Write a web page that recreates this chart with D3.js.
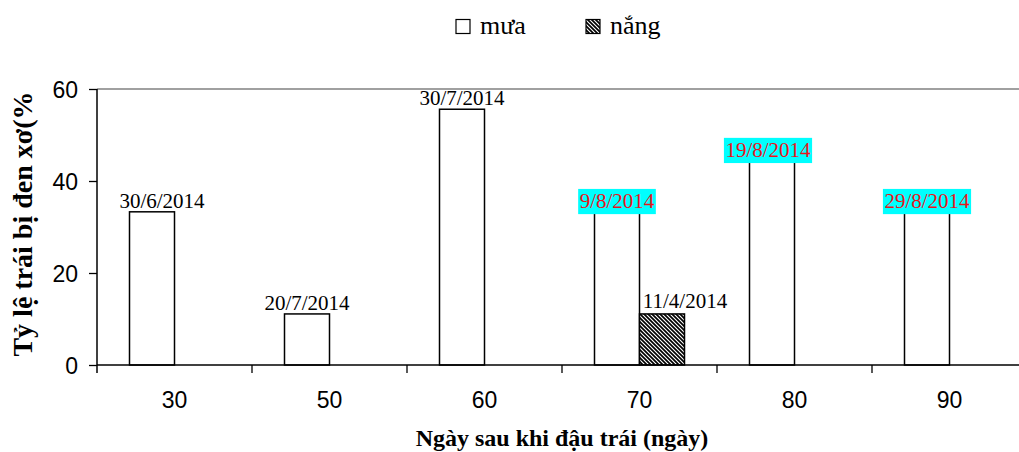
<!DOCTYPE html>
<html>
<head>
<meta charset="utf-8">
<script src="https://cdn.jsdelivr.net/npm/d3@7"></script>
<style>
  html, body { margin: 0; padding: 0; background: #fff; }
  svg { display: block; }
</style>
</head>
<body>
<svg id="chart" width="1019" height="452"></svg>
<script>
// Ngày sau khi đậu trái (days after fruit set)
const categories = ["30", "50", "60", "70", "80", "90"];
const series = ["mưa", "nắng"];
// Tỷ lệ trái bị đen xơ (%)
const rainValues = [33.3, 11.1, 55.6, 33.3, 44.4, 33.3];
const sunValues = [0, 0, 0, 11.1, 0, 0];
// Sampling dates shown above the bars
const rainLabels = ["30/6/2014", "20/7/2014", "30/7/2014", "9/8/2014", "19/8/2014", "29/8/2014"];
const sunLabels = [null, null, null, "11/4/2014", null, null];
const highlightedDates = ["9/8/2014", "19/8/2014", "29/8/2014"];
const yTicks = [0, 20, 40, 60];

const svg = d3.select("#chart");
const margin = { left: 97, top: 89, bottom: 365, right: 1027 };

const x0 = d3.scaleBand().domain(categories).range([margin.left, margin.right]).padding(0);
const x1 = d3.scaleBand().domain(series)
  .range([x0.bandwidth() / 2 - 45, x0.bandwidth() / 2 + 45]).padding(0);
const y = d3.scaleLinear().domain([0, 60]).range([margin.bottom, margin.top]);

// hatch pattern for the "nắng" series
const defs = svg.append("defs");
const pat = defs.append("pattern")
  .attr("id", "hatch").attr("patternUnits", "userSpaceOnUse")
  .attr("width", 4).attr("height", 4);
pat.append("rect").attr("width", 4).attr("height", 4).attr("fill", "#fff");
pat.append("path")
  .attr("d", "M-1,-1 L5,5 M-1,3 L1,5 M3,-1 L5,1")
  .attr("stroke", "#000").attr("stroke-width", 1.7);

// top border of the plot area
svg.append("line")
  .attr("x1", margin.left).attr("x2", margin.right)
  .attr("y1", y(60)).attr("y2", y(60))
  .attr("stroke", "#a0a0a0").attr("stroke-width", 2);

// bars
const rows = categories.map((c, i) => ({
  cat: c,
  values: [
    { key: "mưa", value: rainValues[i], label: rainLabels[i] },
    { key: "nắng", value: sunValues[i], label: sunLabels[i] }
  ]
}));

const groups = svg.append("g").selectAll("g").data(rows).join("g")
  .attr("transform", d => `translate(${x0(d.cat)},0)`);

groups.selectAll("rect").data(d => d.values.filter(v => v.value > 0)).join("rect")
  .attr("x", d => x1(d.key))
  .attr("y", d => y(d.value))
  .attr("width", x1.bandwidth())
  .attr("height", d => y(0) - y(d.value))
  .attr("fill", d => d.key === "nắng" ? "url(#hatch)" : "#fff")
  .attr("stroke", "#000").attr("stroke-width", 1.5);

// axes
const yAxis = d3.axisLeft(y).tickValues(yTicks).tickSize(8).tickPadding(11);
const gy = svg.append("g").attr("transform", `translate(${margin.left},0)`).call(yAxis);
gy.select(".domain").attr("d", `M0,${y(60)}V${y(0) + 8}`).attr("stroke", "#000").attr("stroke-width", 1.5);
gy.selectAll(".tick line").attr("stroke", "#000").attr("stroke-width", 1.3);
gy.selectAll(".tick text")
  .attr("font-family", "'Liberation Sans', Arial, sans-serif")
  .attr("font-size", 23).attr("fill", "#000").attr("dy", "0.36em");

const gx = svg.append("g").attr("transform", `translate(0,${y(0)})`);
gx.append("line").attr("x1", margin.left).attr("x2", margin.right)
  .attr("stroke", "#000").attr("stroke-width", 1.5);
gx.selectAll("line.tk").data(categories.slice(1)).join("line").attr("class", "tk")
  .attr("x1", d => x0(d)).attr("x2", d => x0(d))
  .attr("y1", 0).attr("y2", 8).attr("stroke", "#000").attr("stroke-width", 1.3);
gx.selectAll("text").data(categories).join("text")
  .attr("x", d => x0(d) + x0.bandwidth() / 2)
  .attr("y", 43)
  .attr("text-anchor", "middle")
  .attr("font-family", "'Liberation Sans', Arial, sans-serif")
  .attr("font-size", 23).attr("fill", "#000")
  .text(d => d);

// date labels over the bars
const labelFont = 21;
const nudge = { "30/6/2014": 10, "11/4/2014": 23, "19/8/2014": -4 };
const labelData = [];
rows.forEach(r => r.values.forEach(v => {
  if (v.label) labelData.push({
    text: v.label,
    cx: x0(r.cat) + x1(v.key) + x1.bandwidth() / 2 + (nudge[v.label] || 0),
    base: y(v.value) - (v.key === "nắng" ? 5.5 : 4),
    hi: highlightedDates.includes(v.label)
  });
}));

const lg = svg.append("g").selectAll("g").data(labelData).join("g");
lg.append("text")
  .attr("x", d => d.cx).attr("y", d => d.base)
  .attr("text-anchor", "middle")
  .attr("font-family", "'Liberation Serif', 'Times New Roman', serif")
  .attr("font-size", labelFont)
  .attr("fill", d => d.hi ? "#e8141c" : "#000")
  .text(d => d.text);
lg.each(function (d) {
  if (!d.hi) return;
  const t = d3.select(this).select("text");
  const w = t.node().getComputedTextLength();
  d3.select(this).insert("rect", "text")
    .attr("x", d.cx - w / 2 - 1.5).attr("width", w + 3)
    .attr("y", d.base - labelFont * 0.9).attr("height", labelFont * 1.2)
    .attr("fill", "#00ffff");
});

// legend
const legend = svg.append("g");
const legendItems = [
  { key: "mưa", x: 456, fill: "#fff" },
  { key: "nắng", x: 586, fill: "url(#hatch)" }
];
legendItems.forEach(it => {
  legend.append("rect").attr("x", it.x).attr("y", 19.5)
    .attr("width", 14).attr("height", 14)
    .attr("fill", it.fill).attr("stroke", "#000").attr("stroke-width", 1.2);
  legend.append("text").attr("x", it.x + 24).attr("y", 34)
    .attr("font-family", "'Liberation Serif', 'Times New Roman', serif")
    .attr("font-size", 26).attr("fill", "#000")
    .text(it.key);
});

// axis titles
svg.append("text")
  .attr("transform", `translate(32,${(93 + 355) / 2}) rotate(-90)`)
  .attr("text-anchor", "middle")
  .attr("font-family", "'Liberation Serif', 'Times New Roman', serif")
  .attr("font-weight", "bold").attr("font-size", 28).attr("fill", "#000")
  .text("Tỷ lệ trái bị đen xơ(%");

svg.append("text")
  .attr("x", 562).attr("y", 446)
  .attr("text-anchor", "middle")
  .attr("font-family", "'Liberation Serif', 'Times New Roman', serif")
  .attr("font-weight", "bold").attr("font-size", 24).attr("fill", "#000")
  .text("Ngày sau khi đậu trái (ngày)");
</script>
</body>
</html>
